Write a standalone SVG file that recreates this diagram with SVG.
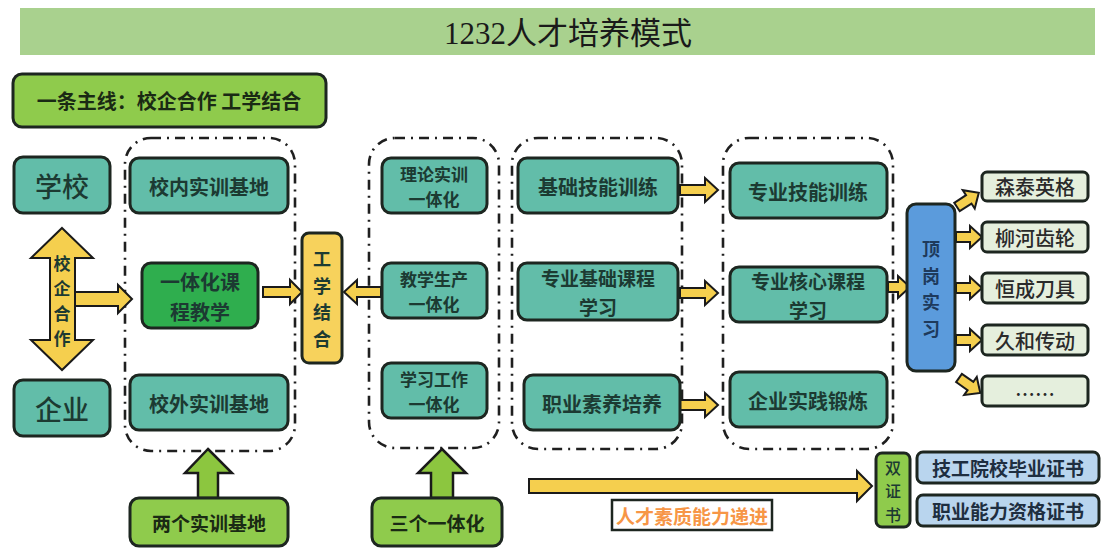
<svg xmlns="http://www.w3.org/2000/svg" xmlns:xlink="http://www.w3.org/1999/xlink" width="1107" height="550" viewBox="0 0 1107 550">
<style>
text{font-family:"Noto Sans CJK SC","Noto Sans",sans-serif;dominant-baseline:central;text-anchor:middle;fill:#1c3a32}
.box{stroke:#1d2620;stroke-width:3}
.teal{fill:#62bda9}
.dg{fill:#2fae4e}
.lg{fill:#8fcb4c}
.yl{fill:#f7d25c}
.bl{fill:#5b9bdc}
.co{fill:#e5efdd}
.ce{fill:#b9d5ee}
.grp{fill:none;stroke:#1f1f1f;stroke-width:2.6;stroke-dasharray:10 6 2 6}
.ya{fill:#f5cf4e;stroke:#1a1a1a;stroke-width:2;stroke-linejoin:miter}
.ga{fill:#8cc63f;stroke:#1a1a1a;stroke-width:2.5;stroke-linejoin:miter}
.t20{font-size:20px;font-weight:700}
.t19{font-size:19px;font-weight:700}
.t17{font-size:17px;font-weight:700}
.big{font-size:27px;font-weight:500}
.co-t{font-size:20px;font-weight:500;fill:#2a2a2a}
.v17{font-size:17px;font-weight:700}
.v18{font-size:18px;font-weight:700}
.v16{font-size:16px;font-weight:500}
</style>
<defs>
<path id="arr" class="ya" d="M0,-5 H25 V-12 L38,0 L25,12 V5 H0 Z"/>
<path id="arrs" class="ya" d="M0,-5 H14 V-11 L26,0 L14,11 V5 H0 Z"/>
</defs>

<g id="title">
<rect x="20" y="8" width="1075" height="47" fill="#a9d18e"/>
<text x="568" y="33" style="font-family:'Liberation Serif','Noto Sans CJK SC',serif;font-size:31px;fill:#1a1a1a">1232人才培养模式</text>
</g>

<g id="mainline">
<rect class="box lg" x="13" y="74" width="313" height="53" rx="9"/>
<text x="169" y="100" style="font-size:20px;font-weight:700;fill:#1a2a14">一条主线：校企合作 工学结合</text>
</g>

<g id="groups">
<rect class="grp" x="125" y="138" width="170" height="313" rx="26"/>
<rect class="grp" x="369" y="138" width="130" height="310" rx="26"/>
<rect class="grp" x="512" y="138" width="170" height="311" rx="26"/>
<rect class="grp" x="723" y="138" width="170" height="311" rx="26"/>
</g>

<g id="connectors">
<polygon class="ya" points="62,228 93,258 75,258 75,340 93,340 62,370 31,340 50,340 50,258 31,258"/>
<polygon class="ya" points="75,292 118,292 118,285 132,299 118,313 118,306 75,306"/>
<polygon class="ya" points="263,287 290,287 290,280 302,292 290,304 290,297 263,297"/>
<polygon class="ya" points="381,287 357,287 357,280 344,292 357,304 357,297 381,297"/>
<use xlink:href="#arr" href="#arr" transform="translate(680,190)"/>
<use xlink:href="#arr" href="#arr" transform="translate(680,293)"/>
<use xlink:href="#arr" href="#arr" transform="translate(680,405)"/>
<polygon class="ya" points="888,282 898,282 898,276 910,287 898,298 898,292 888,292"/>
<use xlink:href="#arrs" href="#arrs" transform="translate(957,207) rotate(-33)"/>
<use xlink:href="#arrs" href="#arrs" transform="translate(956,237)"/>
<use xlink:href="#arrs" href="#arrs" transform="translate(956,288)"/>
<use xlink:href="#arrs" href="#arrs" transform="translate(956,340)"/>
<use xlink:href="#arrs" href="#arrs" transform="translate(959,378) rotate(35)"/>
<polygon class="ga" points="208,449 232,473 218,473 218,498 198,498 198,473 185,473"/>
<polygon class="ga" points="442,449 466,473 453,473 453,498 431,498 431,473 418,473"/>
<polygon class="ya" points="529,479 857,479 857,471 872,486 857,501 857,493 529,493"/>
</g>

<g id="xqhz-label">
<text class="v17" x="62" y="262">校<tspan x="62" dy="25">企</tspan><tspan x="62" dy="25">合</tspan><tspan x="62" dy="25">作</tspan></text>
</g>

<g id="school"><rect class="box teal" x="14" y="157" width="96" height="56" rx="9"/><text class="big" x="62" y="185">学校</text></g>
<g id="enterprise"><rect class="box teal" x="14" y="380" width="96" height="56" rx="9"/><text class="big" x="62" y="408">企业</text></g>

<g id="xnsx"><rect class="box teal" x="130" y="158" width="158" height="55" rx="9"/><text class="t20" x="209" y="186">校内实训基地</text></g>
<g id="ythkc"><rect class="box dg" x="142" y="263" width="116" height="65" rx="9"/><text class="t20" x="200" y="281">一体化课<tspan x="200" dy="29.5">程教学</tspan></text></g>
<g id="xwsx"><rect class="box teal" x="130" y="375" width="158" height="55" rx="9"/><text class="t20" x="209" y="403">校外实训基地</text></g>

<g id="gxjh"><rect class="box yl" x="302" y="233" width="40" height="130" rx="7"/>
<text class="v18" x="322" y="258">工<tspan x="322" dy="26.5">学</tspan><tspan x="322" dy="26.5">结</tspan><tspan x="322" dy="26.5">合</tspan></text>
</g>

<g id="llsx"><rect class="box teal" x="382" y="158" width="105" height="55" rx="9"/><text class="t17" x="434" y="173">理论实训<tspan x="434" dy="25">一体化</tspan></text></g>
<g id="jxsc"><rect class="box teal" x="382" y="263" width="105" height="55" rx="9"/><text class="t17" x="434" y="278">教学生产<tspan x="434" dy="25">一体化</tspan></text></g>
<g id="xxgz"><rect class="box teal" x="382" y="363" width="105" height="55" rx="9"/><text class="t17" x="434" y="378">学习工作<tspan x="434" dy="25">一体化</tspan></text></g>

<g id="jcjn"><rect class="box teal" x="518" y="158" width="160" height="55" rx="9"/><text class="t20" x="598" y="186">基础技能训练</text></g>
<g id="zyjc"><rect class="box teal" x="518" y="263" width="160" height="57" rx="9"/><text class="t19" x="598" y="277.5">专业基础课程<tspan x="598" dy="28">学习</tspan></text></g>
<g id="zysy"><rect class="box teal" x="524" y="375" width="156" height="55" rx="9"/><text class="t20" x="602" y="403">职业素养培养</text></g>

<g id="zyjn"><rect class="box teal" x="730" y="163" width="157" height="55" rx="9"/><text class="t20" x="808" y="191">专业技能训练</text></g>
<g id="zyhx"><rect class="box teal" x="730" y="267" width="157" height="55" rx="9"/><text class="t19" x="808" y="280.5">专业核心课程<tspan x="808" dy="28">学习</tspan></text></g>
<g id="qysj"><rect class="box teal" x="730" y="372" width="157" height="55" rx="9"/><text class="t20" x="808" y="400">企业实践锻炼</text></g>

<g id="dgsx"><rect class="box bl" x="907" y="204" width="48" height="167" rx="9"/>
<text class="v18" x="931" y="248" style="fill:#1e3a5c">顶<tspan x="931" dy="26.5">岗</tspan><tspan x="931" dy="26.5">实</tspan><tspan x="931" dy="26.5">习</tspan></text>
</g>

<g id="c1"><rect class="box co" x="982" y="172" width="106" height="29" rx="5"/><text class="co-t" x="1035" y="186">森泰英格</text></g>
<g id="c2"><rect class="box co" x="982" y="222" width="106" height="30" rx="5"/><text class="co-t" x="1035" y="237">柳河齿轮</text></g>
<g id="c3"><rect class="box co" x="982" y="273" width="106" height="30" rx="5"/><text class="co-t" x="1035" y="288">恒成刀具</text></g>
<g id="c4"><rect class="box co" x="982" y="325" width="106" height="30" rx="5"/><text class="co-t" x="1035" y="340">久和传动</text></g>
<g id="c5"><rect class="box co" x="982" y="376" width="106" height="30" rx="5"/><text class="co-t" x="1035" y="393">……</text></g>

<g id="lgsx"><rect class="box lg" x="130" y="498" width="158" height="48" rx="9"/><text x="209" y="522" style="font-size:19px;font-weight:700;fill:#1a2a14">两个实训基地</text></g>
<g id="sgyth"><rect class="box lg" x="372" y="498" width="130" height="48" rx="9"/><text x="437" y="522" style="font-size:19px;font-weight:700;fill:#1a2a14">三个一体化</text></g>

<g id="rcsz"><rect x="612" y="500" width="160" height="30" fill="#ffffff" stroke="#1d2620" stroke-width="2.5"/><text x="692" y="515" style="font-size:19px;font-weight:700;fill:#f79646">人才素质能力递进</text></g>

<g id="szs"><rect class="box lg" x="876" y="453" width="34" height="74" rx="6"/>
<text class="v16" x="893" y="466.5">双<tspan x="893" dy="23.5">证</tspan><tspan x="893" dy="23.5">书</tspan></text>
</g>
<g id="cert1"><rect class="box ce" x="917" y="452" width="182" height="31" rx="6"/><text x="1008" y="467" style="font-size:19px;font-weight:700;fill:#1e2e40">技工院校毕业证书</text></g>
<g id="cert2"><rect class="box ce" x="917" y="495" width="182" height="31" rx="6"/><text x="1008" y="510" style="font-size:19px;font-weight:700;fill:#1e2e40">职业能力资格证书</text></g>
</svg>
